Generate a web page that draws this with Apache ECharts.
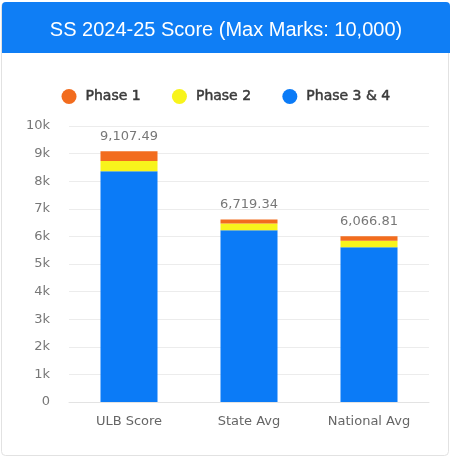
<!DOCTYPE html>
<html>
<head>
<meta charset="utf-8">
<script src="https://cdn.jsdelivr.net/npm/echarts@6/dist/echarts.min.js"></script>
<style>
html,body{margin:0;padding:0;background:#fff;}
#chart{width:452px;height:457px;}
</style>
</head>
<body>
<div id="chart"></div>
<script>
const categories = ['ULB Score', 'State Avg', 'National Avg'];
const phase34 = [8360, 6225, 5610];
const phase2 = [373, 242, 228];
const phase1 = [351, 145, 170];
const totals = [9107.49, 6719.34, 6066.81];
const yTicks = { min: 0, max: 10000, interval: 1000 };
const titleText = 'SS 2024-25 Score (Max Marks: 10,000)';

const chart = echarts.init(document.getElementById('chart'), null, { renderer: 'canvas' });
const labelFont = 'DejaVu Sans';
chart.setOption({
  animation: false,
  backgroundColor: '#fff',
  graphic: [
    { type: 'rect', left: 1, top: 2, z: -10,
      shape: { width: 447, height: 453, r: 4 },
      style: { fill: '#fff', stroke: '#e2e2e2', lineWidth: 1 } },
    { type: 'rect', left: 2, top: 2, z: -5,
      shape: { width: 448, height: 51, r: [4, 4, 0, 0] },
      style: { fill: '#0f7ef5' } },
    { type: 'text', left: 'center', top: 20, z: 5,
      style: { text: titleText, fill: '#fff', font: '20px "Liberation Sans", Arial, sans-serif' } }
  ],
  legend: {
    data: ['Phase 1', 'Phase 2', 'Phase 3 & 4'],
    top: 84,
    left: 'center',
    icon: 'circle',
    itemWidth: 15,
    itemHeight: 15,
    itemGap: 31,
    textStyle: { fontFamily: 'DejaVu Sans', fontSize: 14, color: '#3a3a3a',
      textBorderColor: '#3a3a3a', textBorderWidth: 0.5, padding: [0, 0, 0, 4] }
  },
  grid: { left: 69, right: 23, top: 126, bottom: 55, containLabel: false },
  xAxis: {
    type: 'category',
    data: categories,
    axisLine: { lineStyle: { color: '#e3e3e3' } },
    axisTick: { show: false },
    axisLabel: { color: '#666', fontFamily: labelFont, fontSize: 13, margin: 13 }
  },
  yAxis: {
    type: 'value',
    min: yTicks.min, max: yTicks.max, interval: yTicks.interval,
    axisLine: { show: false },
    axisTick: { show: false },
    splitLine: { lineStyle: { color: '#ececec' } },
    axisLabel: {
      color: '#777', fontFamily: labelFont, fontSize: 13, margin: 19,
      formatter: v => v === 0 ? '0' : (v / 1000) + 'k'
    }
  },
  series: [
    { name: 'Phase 3 & 4', type: 'bar', stack: 'total', data: phase34, barWidth: '47.5%',
      itemStyle: { color: '#0b7bf7' } },
    { name: 'Phase 2', type: 'bar', stack: 'total', data: phase2,
      itemStyle: { color: '#f8f41c' } },
    { name: 'Phase 1', type: 'bar', stack: 'total', data: phase1,
      itemStyle: { color: '#f26c1e' },
      label: {
        show: true, position: 'top', distance: 8,
        color: '#777', fontFamily: labelFont, fontSize: 13,
        formatter: p => totals[p.dataIndex].toLocaleString('en-US', { minimumFractionDigits: 2, maximumFractionDigits: 2 })
      } }
  ]
});
</script>
</body>
</html>
